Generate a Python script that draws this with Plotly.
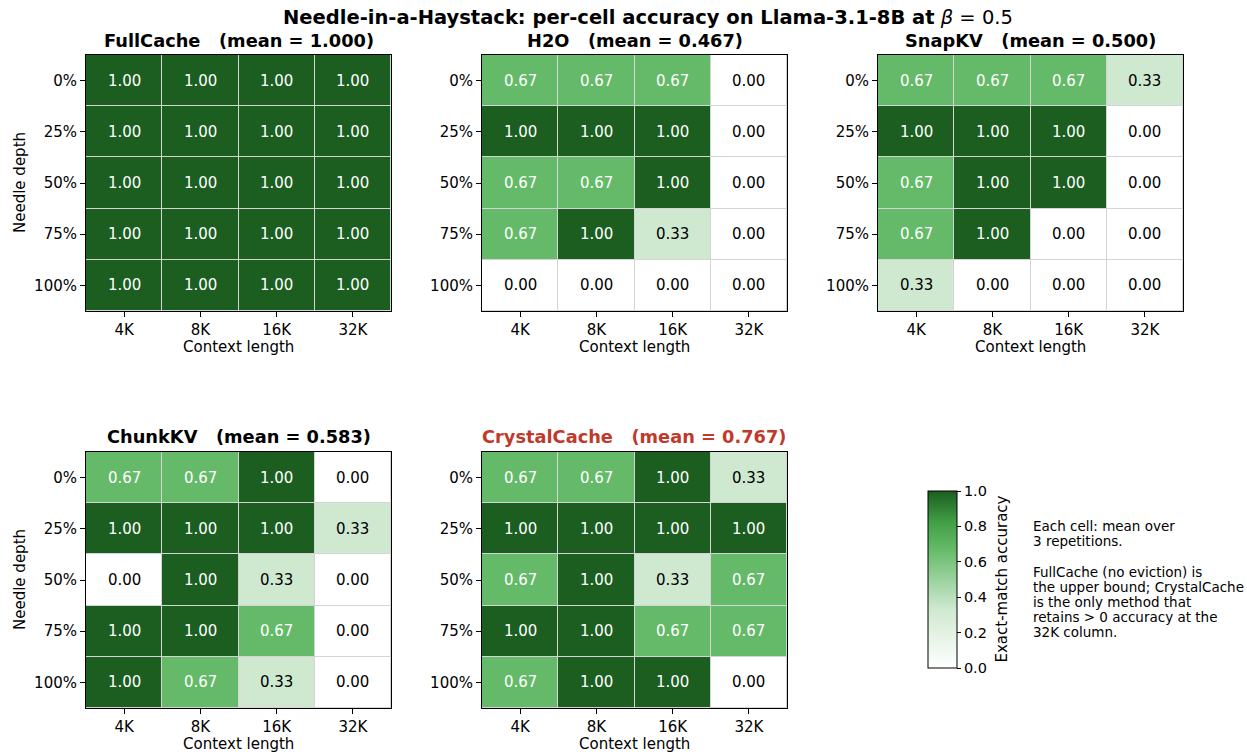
import plotly.graph_objects as go

W, H = 1247, 752

contexts = ["4K", "8K", "16K", "32K"]
depths = ["0%", "25%", "50%", "75%", "100%"]

methods = ["FullCache", "H2O", "SnapKV", "ChunkKV", "CrystalCache"]

fullcache = [
    [1.00, 1.00, 1.00, 1.00],
    [1.00, 1.00, 1.00, 1.00],
    [1.00, 1.00, 1.00, 1.00],
    [1.00, 1.00, 1.00, 1.00],
    [1.00, 1.00, 1.00, 1.00],
]
h2o = [
    [0.67, 0.67, 0.67, 0.00],
    [1.00, 1.00, 1.00, 0.00],
    [0.67, 0.67, 1.00, 0.00],
    [0.67, 1.00, 0.33, 0.00],
    [0.00, 0.00, 0.00, 0.00],
]
snapkv = [
    [0.67, 0.67, 0.67, 0.33],
    [1.00, 1.00, 1.00, 0.00],
    [0.67, 1.00, 1.00, 0.00],
    [0.67, 1.00, 0.00, 0.00],
    [0.33, 0.00, 0.00, 0.00],
]
chunkkv = [
    [0.67, 0.67, 1.00, 0.00],
    [1.00, 1.00, 1.00, 0.33],
    [0.00, 1.00, 0.33, 0.00],
    [1.00, 1.00, 0.67, 0.00],
    [1.00, 0.67, 0.33, 0.00],
]
crystalcache = [
    [0.67, 0.67, 1.00, 0.33],
    [1.00, 1.00, 1.00, 1.00],
    [0.67, 1.00, 0.33, 0.67],
    [1.00, 1.00, 0.67, 0.67],
    [0.67, 1.00, 1.00, 0.00],
]
means = [1.000, 0.467, 0.500, 0.583, 0.767]
grids = [fullcache, h2o, snapkv, chunkkv, crystalcache]

note_lines = [
    "Each cell: mean over",
    "3 repetitions.",
    "",
    "FullCache (no eviction) is",
    "the upper bound; CrystalCache",
    "is the only method that",
    "retains &gt; 0 accuracy at the",
    "32K column.",
]

# panel boxes in pixels: (left, top, right, bottom)
boxes = [
    (86, 55, 391, 311),
    (482, 55, 787, 311),
    (878, 55, 1183, 311),
    (86, 452, 391, 708),
    (482, 452, 787, 708),
]

FONT = "DejaVu Sans"
TICK = 15
colorscale = [
    [0.0, "#ffffff"],
    [1 / 3, "#cfe9d0"],
    [2 / 3, "#66bb6a"],
    [0.82, "#43a047"],
    [1.0, "#1b5e20"],
]


def px_x(v):
    return v / W


def px_y(v):
    return 1 - v / H


fig = go.Figure()
annotations = []
layout = {}

for i, (name, grid, mean, box) in enumerate(zip(methods, grids, means, boxes)):
    k = "" if i == 0 else str(i + 1)
    left, top, right, bottom = box
    last = i == len(methods) - 1
    fig.add_trace(
        go.Heatmap(
            z=grid,
            x=contexts,
            y=depths,
            xaxis="x" + k,
            yaxis="y" + k,
            zmin=0,
            zmax=1,
            colorscale=colorscale,
            xgap=1,
            ygap=1,
            showscale=last,
            hoverinfo="skip",
            colorbar=dict(
                thickness=29,
                thicknessmode="pixels",
                len=177,
                lenmode="pixels",
                x=px_x(928),
                xanchor="left",
                y=px_y(668),
                yanchor="bottom",
                outlinecolor="black",
                outlinewidth=1,
                ticks="outside",
                ticklen=4,
                tickcolor="black",
                tickvals=[0, 0.2, 0.4, 0.6, 0.8, 1.0],
                ticktext=["0.0", "0.2", "0.4", "0.6", "0.8", "1.0"],
                tickfont=dict(family=FONT, size=14.5, color="black"),
                xpad=0,
                ypad=0,
            ),
        )
    )
    axis_common = dict(
        showline=True,
        linecolor="black",
        linewidth=1,
        mirror=True,
        ticks="outside",
        ticklen=5,
        tickcolor="black",
        tickfont=dict(family=FONT, size=TICK, color="black"),
        showgrid=False,
        zeroline=False,
        fixedrange=True,
    )
    layout["xaxis" + k] = dict(
        axis_common,
        domain=[px_x(left), px_x(right)],
        anchor="y" + k,
        type="category",
        ticklabelstandoff=0,
    )
    layout["yaxis" + k] = dict(
        axis_common,
        domain=[px_y(bottom), px_y(top)],
        anchor="x" + k,
        type="category",
        autorange="reversed",
    )

    # cell values
    for r, row in enumerate(grid):
        for c, v in enumerate(row):
            annotations.append(
                dict(
                    x=contexts[c],
                    y=depths[r],
                    xref="x" + k,
                    yref="y" + k,
                    text=f"{v:.2f}",
                    showarrow=False,
                    font=dict(family=FONT, size=15,
                              color="white" if v > 0.5 else "black"),
                )
            )

    cx = (left + right) / 2
    title_color = "#c0392b" if name == "CrystalCache" else "black"
    annotations.append(
        dict(
            x=px_x(cx),
            y=px_y(top - 15),
            xref="paper",
            yref="paper",
            text=f"<b>{name}   (mean = {mean:.3f})</b>",
            showarrow=False,
            xanchor="center",
            yanchor="middle",
            font=dict(family=FONT, size=17.8, color=title_color),
        )
    )
    annotations.append(
        dict(
            x=px_x(cx),
            y=px_y(bottom + 36),
            xref="paper",
            yref="paper",
            text="Context length",
            showarrow=False,
            xanchor="center",
            yanchor="middle",
            font=dict(family=FONT, size=TICK, color="black"),
        )
    )
    if left < 100:
        annotations.append(
            dict(
                x=px_x(20),
                y=px_y((top + bottom) / 2),
                xref="paper",
                yref="paper",
                text="Needle depth",
                textangle=-90,
                showarrow=False,
                xanchor="center",
                yanchor="middle",
                font=dict(family=FONT, size=TICK, color="black"),
            )
        )

annotations.append(
    dict(
        x=px_x(648),
        y=px_y(17),
        xref="paper",
        yref="paper",
        text="<b>Needle-in-a-Haystack: per-cell accuracy on Llama-3.1-8B at</b> <i>β</i> = 0.5",
        showarrow=False,
        xanchor="center",
        yanchor="middle",
        font=dict(family=FONT, size=19.5, color="black"),
    )
)
annotations.append(
    dict(
        x=px_x(1001),
        y=px_y(579.5),
        xref="paper",
        yref="paper",
        text="Exact-match accuracy",
        textangle=-90,
        showarrow=False,
        xanchor="center",
        yanchor="middle",
        font=dict(family=FONT, size=15, color="black"),
    )
)
# side note, one line per annotation for tighter leading
for j, line in enumerate(note_lines):
    if not line:
        continue
    annotations.append(
        dict(
            x=px_x(1031),
            y=px_y(526 + j * 15.2),
            xref="paper",
            yref="paper",
            text=line,
            align="left",
            showarrow=False,
            xanchor="left",
            yanchor="middle",
            font=dict(family=FONT, size=13.5, color="black"),
        )
    )

fig.update_layout(
    width=W,
    height=H,
    margin=dict(l=0, r=0, t=0, b=0),
    paper_bgcolor="white",
    plot_bgcolor="#d4d4d4",
    annotations=annotations,
    showlegend=False,
    **layout,
)

fig.write_html("out.html")
